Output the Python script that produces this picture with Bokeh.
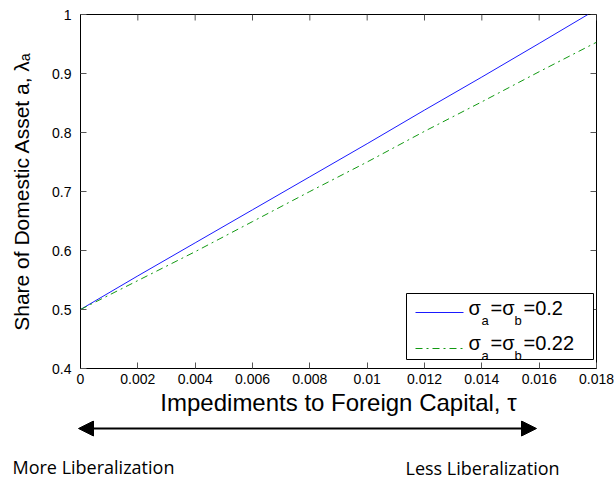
from bokeh.plotting import figure
from bokeh.layouts import column, row
from bokeh.models import (Range1d, FixedTicker, BoxAnnotation, Label, Arrow, NormalHead)
from bokeh.embed import file_html
from bokeh.resources import INLINE

# ---- data ----
tau_blue = [0.0, 0.002, 0.004, 0.006, 0.008, 0.010, 0.012, 0.014, 0.016, 0.0177]
lam_blue = [0.500, 0.557, 0.613, 0.669, 0.725, 0.781, 0.838, 0.894, 0.951, 1.000]
tau_green = [0.0, 0.002, 0.004, 0.006, 0.008, 0.010, 0.012, 0.014, 0.016, 0.018]
lam_green = [0.500, 0.549, 0.598, 0.649, 0.700, 0.750, 0.802, 0.852, 0.903, 0.953]
x_ticks = [0.0, 0.002, 0.004, 0.006, 0.008, 0.010, 0.012, 0.014, 0.016, 0.018]
x_tick_labels = ["0", "0.002", "0.004", "0.006", "0.008", "0.01", "0.012", "0.014", "0.016", "0.018"]
y_ticks = [0.4, 0.5, 0.6, 0.7, 0.8, 0.9, 1.0]
y_tick_labels = ["0.4", "0.5", "0.6", "0.7", "0.8", "0.9", "1"]
legend_values = ["0.2", "0.22"]

FONT = "Liberation Sans"
W = 616
H1 = 420
H2 = 58
X0, X1 = 0.0, 0.018
Y0, Y1 = 0.4, 1.0
FL, FR, FT, FB = 80, 596, 14, 368  # frame pixel edges
TICK = 6  # inward tick length, px


def dx(px):
    return X0 + (px - FL) / (FR - FL) * (X1 - X0)


def dy(py):
    return Y1 - (py - FT) / (FB - FT) * (Y1 - Y0)


p = figure(width=W, height=H1, output_backend="svg", toolbar_location=None,
           x_range=Range1d(X0, X1), y_range=Range1d(Y0, Y1),
           min_border_left=FL, min_border_right=W - FR, min_border_top=FT,
           min_border_bottom=H1 - FB)
p.grid.visible = False
p.outline_line_color = "black"
p.outline_line_width = 1

for ax in (p.xaxis[0], p.yaxis[0]):
    ax.major_tick_in = TICK
    ax.major_tick_out = 0
    ax.minor_tick_line_color = None
    ax.axis_line_color = "black"
    ax.major_tick_line_color = "#555555"
    ax.major_label_text_font = FONT
    ax.major_label_text_font_size = "14px"
    ax.major_label_text_color = "black"
    ax.axis_label_text_font = FONT
    ax.axis_label_text_font_style = "normal"
    ax.axis_label_text_color = "black"

p.xaxis[0].ticker = FixedTicker(ticks=x_ticks)
p.xaxis[0].major_label_overrides = {t: l for t, l in zip(x_ticks, x_tick_labels)}
p.yaxis[0].ticker = FixedTicker(ticks=y_ticks)
p.yaxis[0].major_label_overrides = {t: l for t, l in zip(y_ticks, y_tick_labels)}
p.xaxis[0].axis_label = "Impediments to Foreign Capital, τ"
p.xaxis[0].axis_label_text_font_size = "24px"
p.xaxis[0].axis_label_standoff = 2
p.xaxis[0].major_label_standoff = 5
p.yaxis[0].axis_label = "Share of Domestic Asset a, λₐ"
p.yaxis[0].axis_label_text_font_size = "21px"
p.yaxis[0].axis_label_standoff = 16
p.yaxis[0].major_label_standoff = 9

# top / right inward ticks (box-style axes)
tick_dy = (Y1 - Y0) * TICK / (FB - FT)
tick_dx = (X1 - X0) * TICK / (FR - FL)
p.segment(x0=x_ticks, y0=[Y1] * len(x_ticks), x1=x_ticks, y1=[Y1 - tick_dy] * len(x_ticks),
          line_color="#555555", line_width=1)
p.segment(x0=[X1] * len(y_ticks), y0=y_ticks, x1=[X1 - tick_dx] * len(y_ticks), y1=y_ticks,
          line_color="#555555", line_width=1)

p.line(tau_blue, lam_blue, line_color="#1a1aff", line_width=1)
p.line(tau_green, lam_green, line_color="#119911", line_width=1, line_dash="7 4 2 4")

# legend (manual, for sub-scripts)
box = BoxAnnotation(left=dx(406), right=dx(593), top=dy(293), bottom=dy(359),
                    fill_color="white", fill_alpha=1.0, line_color="black", line_width=1,
                    line_alpha=1.0)
p.add_layout(box)
p.line([dx(415), dx(463)], [dy(312), dy(312)], line_color="#1a1aff", line_width=1, level="overlay")
p.line([dx(415), dx(463)], [dy(348), dy(348)], line_color="#119911", line_width=1,
       line_dash="7 4 2 4", level="overlay")

for val, base in zip(legend_values, [313, 348]):
    pieces = [("σ", 468, 0, 20), ("a", 481, 11, 13), ("=σ", 490, 0, 20),
              ("b", 514, 11, 13), ("=" + val, 523, 0, 20)]
    for txt, px, off, fs in pieces:
        shift = round(0.3 * fs)
        p.add_layout(Label(x=dx(px), y=dy(base + off - shift), text=txt, text_font=FONT,
                           text_font_size=f"{fs}px", text_baseline="alphabetic",
                           text_align="left", text_color="black", level="overlay"))

# ---- lower strip: arrow and captions (pixel-like coordinates) ----
q = figure(width=W, height=H2, output_backend="svg", toolbar_location=None,
           x_range=Range1d(0, W), y_range=Range1d(0, H2),
           x_axis_type=None, y_axis_type=None,
           min_border_left=0, min_border_right=0, min_border_top=0, min_border_bottom=0)
q.grid.visible = False
q.outline_line_color = None


def sy(py):
    return H1 + H2 - py


q.add_layout(Arrow(x_start=78, y_start=sy(428), x_end=536, y_end=sy(428),
                   line_width=2, line_color="black",
                   start=NormalHead(size=15, fill_color="black", line_color="black"),
                   end=NormalHead(size=15, fill_color="black", line_color="black")))
q.add_layout(Label(x=12, y=sy(472 - 6), text="More Liberalization", text_font="Open Sans",
                   text_font_size="18px", text_baseline="alphabetic", text_color="black"))
q.add_layout(Label(x=405, y=sy(474 - 7), text="Less Liberalization", text_font="Open Sans",
                   text_font_size="18px", text_baseline="alphabetic", text_color="black"))

layout = column(p, row(q, spacing=0), spacing=0)
open("out.html", "w").write(file_html(layout, INLINE))
